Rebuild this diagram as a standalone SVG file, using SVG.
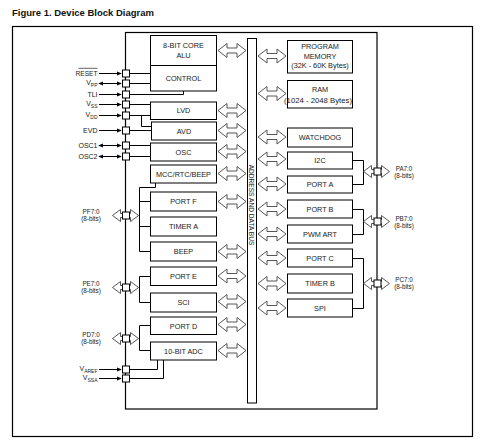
<svg xmlns="http://www.w3.org/2000/svg" width="483" height="447" viewBox="0 0 483 447">
<defs>
<style>
.frame{fill:none;stroke:#000;stroke-width:1.2}
.box{fill:#fff;stroke:#000;stroke-width:1}
.bus{fill:#fff;stroke:#000;stroke-width:1}
.t{font-family:"Liberation Sans",Arial,sans-serif;font-size:7.3px;fill:#222;text-anchor:middle}
.pl{font-family:"Liberation Sans",Arial,sans-serif;font-size:7px;fill:#222;text-anchor:end}
.pp{font-family:"Liberation Sans",Arial,sans-serif;font-size:6.3px;fill:#222;text-anchor:middle}
.ln{fill:none;stroke:#000;stroke-width:1}
.pin{fill:#fff;stroke:#000;stroke-width:1}
.ha{fill:#fff;stroke:#444;stroke-width:0.9}
.sa{fill:none;stroke:#000;stroke-width:1}
</style>
<marker id="ah" viewBox="0 0 6 6" refX="5" refY="3" markerWidth="5" markerHeight="5" orient="auto-start-reverse" markerUnits="userSpaceOnUse">
<path d="M0,0.5 L6,3 L0,5.5 Z" fill="#000"/>
</marker>
<path id="busArrow" d="M0,0 L9,-7 L9,-2.5 L19,-2.5 L19,-7 L28,0 L19,7 L19,2.5 L9,2.5 L9,7 Z"/>
<path id="pinArrow" d="M0,0 L8,-6 L8,-2 L18,-2 L18,-6 L26,0 L18,6 L18,2 L8,2 L8,6 Z"/>
</defs>
<rect width="483" height="447" fill="#fff"/>
<text x="12" y="15.5" style="font-family:'Liberation Sans',Arial,sans-serif;font-size:9.5px;font-weight:bold;fill:#111">Figure 1. Device Block Diagram</text>
<rect class="frame" x="12.5" y="26.5" width="460" height="410"/>
<rect id="chip" class="frame" x="125.5" y="32.5" width="251.5" height="376.5"/>

<g id="connectors">
<path class="ln" d="M129.5,73.5 H150.5 M129.5,83.5 H150.5 M129.5,94.5 H183.5 V91 M129.5,104.5 H150.5 M129.5,115.5 H150.5 M141.5,115.5 V126.5 H151.5 M129.5,130.5 H151.5 M129.5,145.5 H150.5 M129.5,156.5 H150.5"/>
<path class="ln" d="M155.5,183 V187.5 H139.5 V251.5 H150.5 M139.5,201.5 H150.5 M139.5,226.5 H150.5"/>
<path class="ln" d="M150.5,276.5 H139.5 V302.5 H150.5"/>
<path class="ln" d="M150.5,325.5 H139.5 V350.5 H150.5"/>
<path class="ln" d="M129.5,369.5 H157.5 V360 M129.5,378.5 H163.5 V360"/>
<path class="ln" d="M352.5,160.5 H363.5 V184.5 H352.5"/>
<path class="ln" d="M352.5,209.5 H363.5 V234.5 H352.5"/>
<path class="ln" d="M352.5,258.5 H363.5 V308.5 H352.5"/>
<!-- solid pin arrows -->
<line class="sa" x1="99" y1="73.5" x2="121" y2="73.5" marker-end="url(#ah)"/>
<line class="sa" x1="99" y1="83.5" x2="121" y2="83.5" marker-start="url(#ah)" marker-end="url(#ah)"/>
<line class="sa" x1="99" y1="94.5" x2="121" y2="94.5" marker-end="url(#ah)"/>
<line class="sa" x1="99" y1="104.5" x2="121" y2="104.5" marker-end="url(#ah)"/>
<line class="sa" x1="99" y1="115.5" x2="121" y2="115.5" marker-end="url(#ah)"/>
<line class="sa" x1="99" y1="130.5" x2="121" y2="130.5" marker-end="url(#ah)"/>
<line class="sa" x1="99" y1="145.5" x2="121" y2="145.5" marker-start="url(#ah)" marker-end="url(#ah)"/>
<line class="sa" x1="99" y1="156.5" x2="121" y2="156.5" marker-start="url(#ah)" marker-end="url(#ah)"/>
<line class="sa" x1="99" y1="369.5" x2="121" y2="369.5" marker-end="url(#ah)"/>
<line class="sa" x1="99" y1="378.5" x2="121" y2="378.5" marker-end="url(#ah)"/>
<!-- hollow port arrows -->
<use href="#pinArrow" class="ha" x="112.5" y="215.5"/>
<use href="#pinArrow" class="ha" x="112.5" y="287.5"/>
<use href="#pinArrow" class="ha" x="112.5" y="338.5"/>
<use href="#pinArrow" class="ha" x="363.5" y="171.5"/>
<use href="#pinArrow" class="ha" x="363.5" y="221.5"/>
<use href="#pinArrow" class="ha" x="363.5" y="283.5"/>
<!-- bus arrows left -->
<use href="#busArrow" class="ha" x="218" y="50.5"/>
<use href="#busArrow" class="ha" x="218" y="110.5"/>
<use href="#busArrow" class="ha" x="218" y="130.5"/>
<use href="#busArrow" class="ha" x="218" y="151.5"/>
<use href="#busArrow" class="ha" x="218" y="173.5"/>
<use href="#busArrow" class="ha" x="218" y="201.5"/>
<use href="#busArrow" class="ha" x="218" y="251.5"/>
<use href="#busArrow" class="ha" x="218" y="276"/>
<use href="#busArrow" class="ha" x="218" y="301.5"/>
<use href="#busArrow" class="ha" x="218" y="324.5"/>
<use href="#busArrow" class="ha" x="218" y="350.5"/>
<!-- bus arrows right -->
<use href="#busArrow" class="ha" x="258" y="56"/>
<use href="#busArrow" class="ha" x="258" y="93.5"/>
<use href="#busArrow" class="ha" x="258" y="137"/>
<use href="#busArrow" class="ha" x="258" y="159"/>
<use href="#busArrow" class="ha" x="258" y="184"/>
<use href="#busArrow" class="ha" x="258" y="209"/>
<use href="#busArrow" class="ha" x="258" y="234"/>
<use href="#busArrow" class="ha" x="258" y="258"/>
<use href="#busArrow" class="ha" x="258" y="283.5"/>
<use href="#busArrow" class="ha" x="258" y="308"/>
</g>

<g id="bus">
<rect class="bus" x="247.5" y="38.5" width="9" height="364.5"/>
<text class="t" transform="translate(251.8,205) rotate(90)" x="0" y="2.3" style="font-size:6.6px">ADDRESS AND DATA BUS</text>
</g>

<g id="alu"><rect class="box" x="150.5" y="35.5" width="66" height="30"/><text class="t" x="183.5" y="47.5">8-BIT CORE</text><text class="t" x="183.5" y="58">ALU</text></g>
<g id="control"><rect class="box" x="150.5" y="65.5" width="66" height="25.5"/><text class="t" x="183.5" y="80.5">CONTROL</text></g>
<g id="lvd"><rect class="box" x="150.5" y="102" width="66" height="17.5"/><text class="t" x="183.5" y="113">LVD</text></g>
<g id="avd"><rect class="box" x="151.5" y="122" width="65" height="18"/><text class="t" x="184" y="133.5">AVD</text></g>
<g id="osc"><rect class="box" x="150.5" y="143" width="66" height="18"/><text class="t" x="183.5" y="154.5">OSC</text></g>
<g id="mcc"><rect class="box" x="150.5" y="165" width="66" height="18"/><text class="t" x="183.5" y="176.5">MCC/RTC/BEEP</text></g>
<g id="portf"><rect class="box" x="150.5" y="192" width="66" height="19"/><text class="t" x="183.5" y="204">PORT F</text></g>
<g id="timera"><rect class="box" x="150.5" y="217" width="66" height="19"/><text class="t" x="183.5" y="229">TIMER A</text></g>
<g id="beep"><rect class="box" x="150.5" y="242" width="66" height="19"/><text class="t" x="183.5" y="254">BEEP</text></g>
<g id="porte"><rect class="box" x="150.5" y="267" width="66" height="18.5"/><text class="t" x="183.5" y="279">PORT E</text></g>
<g id="sci"><rect class="box" x="150.5" y="293" width="66" height="19"/><text class="t" x="183.5" y="305">SCI</text></g>
<g id="portd"><rect class="box" x="150.5" y="317" width="66" height="17.5"/><text class="t" x="183.5" y="328.5">PORT D</text></g>
<g id="adc"><rect class="box" x="150.5" y="342" width="66" height="18"/><text class="t" x="183.5" y="353.5">10-BIT ADC</text></g>

<g id="progmem"><rect class="box" x="287.5" y="40.5" width="65" height="32.5"/><text class="t" x="320" y="49">PROGRAM</text><text class="t" x="320" y="58.5">MEMORY</text><text class="t" x="320" y="67.5">(32K - 60K Bytes)</text></g>
<g id="ram"><rect class="box" x="287.5" y="80.5" width="65" height="27.5"/><text class="t" x="320" y="91.5">RAM</text><text class="t" x="318" y="102.5" textLength="68" lengthAdjust="spacingAndGlyphs">(1024 - 2048 Bytes)</text></g>
<g id="watchdog"><rect class="box" x="287.5" y="128" width="65" height="19"/><text class="t" x="320" y="140">WATCHDOG</text></g>
<g id="i2c"><rect class="box" x="287.5" y="152" width="65" height="17"/><text class="t" x="320" y="163">I2C</text></g>
<g id="porta"><rect class="box" x="287.5" y="176" width="65" height="17"/><text class="t" x="320" y="187">PORT A</text></g>
<g id="portb"><rect class="box" x="287.5" y="200" width="65" height="18"/><text class="t" x="320" y="211.5">PORT B</text></g>
<g id="pwmart"><rect class="box" x="287.5" y="225" width="65" height="18"/><text class="t" x="320" y="236.5">PWM ART</text></g>
<g id="portc"><rect class="box" x="287.5" y="249" width="65" height="18"/><text class="t" x="320" y="260.5">PORT C</text></g>
<g id="timerb"><rect class="box" x="287.5" y="274" width="65" height="19"/><text class="t" x="320" y="286">TIMER B</text></g>
<g id="spi"><rect class="box" x="287.5" y="299" width="65" height="18"/><text class="t" x="320" y="310.5">SPI</text></g>

<g id="pins">
<rect class="pin" x="122.5" y="70" width="7" height="7"/>
<rect class="pin" x="122.5" y="80" width="7" height="7"/>
<rect class="pin" x="122.5" y="91" width="7" height="7"/>
<rect class="pin" x="122.5" y="101" width="7" height="7"/>
<rect class="pin" x="122.5" y="112" width="7" height="7"/>
<rect class="pin" x="122.5" y="127" width="7" height="7"/>
<rect class="pin" x="122.5" y="142" width="7" height="7"/>
<rect class="pin" x="122.5" y="153" width="7" height="7"/>
<rect class="pin" x="122.5" y="212" width="7" height="7"/>
<rect class="pin" x="122.5" y="284" width="7" height="7"/>
<rect class="pin" x="122.5" y="335" width="7" height="7"/>
<rect class="pin" x="122.5" y="366" width="7" height="7"/>
<rect class="pin" x="122.5" y="375" width="7" height="7"/>
<rect class="pin" x="374" y="168" width="7" height="7"/>
<rect class="pin" x="374" y="218" width="7" height="7"/>
<rect class="pin" x="374" y="280" width="7" height="7"/>
</g>

<g id="pin-labels">
<text class="pl" x="97.5" y="76" style="font-size:6.6px">RESET</text>
<line x1="78.5" y1="68.3" x2="97.5" y2="68.3" stroke="#222" stroke-width="0.7"/>
<text class="pl" x="97.5" y="85">V<tspan font-size="5" dy="1.5">PP</tspan></text>
<text class="pl" x="97.5" y="97">TLI</text>
<text class="pl" x="97.5" y="106">V<tspan font-size="5" dy="1.5">SS</tspan></text>
<text class="pl" x="97.5" y="117">V<tspan font-size="5" dy="1.5">DD</tspan></text>
<text class="pl" x="97.5" y="133">EVD</text>
<text class="pl" x="97.5" y="148">OSC1</text>
<text class="pl" x="97.5" y="159">OSC2</text>
<text class="pl" x="97.5" y="371">V<tspan font-size="5" dy="1.5">AREF</tspan></text>
<text class="pl" x="97.5" y="380">V<tspan font-size="5" dy="1.5">SSA</tspan></text>
<text class="pp" x="91" y="214">PF7:0</text><text class="pp" x="91" y="221">(8-bits)</text>
<text class="pp" x="91" y="286">PE7:0</text><text class="pp" x="91" y="293">(8-bits)</text>
<text class="pp" x="91" y="337">PD7:0</text><text class="pp" x="91" y="344">(8-bits)</text>
<text class="pp" x="404" y="170.5">PA7:0</text><text class="pp" x="404" y="177.5">(8-bits)</text>
<text class="pp" x="404" y="220.5">PB7:0</text><text class="pp" x="404" y="227.5">(8-bits)</text>
<text class="pp" x="404" y="282">PC7:0</text><text class="pp" x="404" y="289">(8-bits)</text>
</g>
</svg>
